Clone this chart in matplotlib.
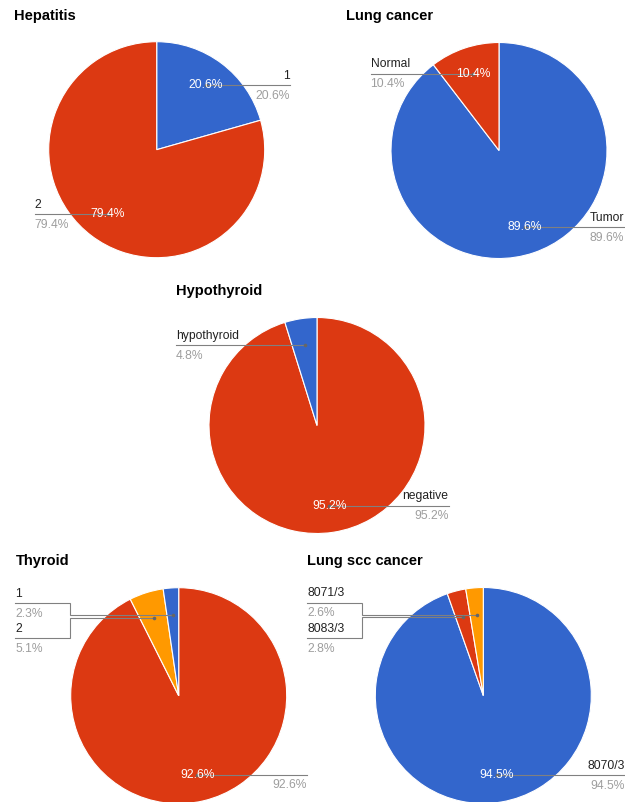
import numpy as np
import matplotlib
matplotlib.use('Agg')
import matplotlib.pyplot as plt

plt.rcParams['font.family'] = ['Liberation Sans', 'DejaVu Sans']

W, H = 625, 802

BLUE = '#3366cc'
RED = '#dc3912'
ORANGE = '#ff9900'

# data (slices listed clockwise from 12 o'clock)
hep_labels = ['1', '2']
hep_values = [20.6, 79.4]
hep_colors = [BLUE, RED]

lung_labels = ['Tumor', 'Normal']
lung_values = [89.6, 10.4]
lung_colors = [BLUE, RED]

hypo_labels = ['negative', 'hypothyroid']
hypo_values = [95.2, 4.8]
hypo_colors = [RED, BLUE]

thy_labels = ['', '2', '1']
thy_values = [92.6, 5.1, 2.3]
thy_colors = [RED, ORANGE, BLUE]

scc_labels = ['8070/3', '8083/3', '8071/3']
scc_values = [94.5, 2.8, 2.6]
scc_colors = [BLUE, RED, ORANGE]

R = 108
FS = 8.7
LINE = '#808080'

fig = plt.figure(figsize=(W / 100, H / 100), dpi=100)
ax = fig.add_axes([0, 0, 1, 1])


def draw(title, labels, values, colors, cx, cy, left, right, tx, ty):
    ax.text(tx, ty, title, fontsize=10.5, fontweight='bold', color='#000000', va='baseline')
    # y axis is inverted (pixel coords) so counterclock + -90 = clockwise from top
    ax.pie(values, colors=colors, center=(cx, cy), radius=R, startangle=-90,
           counterclock=True, frame=True,
           wedgeprops=dict(edgecolor='white', linewidth=0.8))
    vals = np.array(values, dtype=float)
    total = vals.sum()
    cum = np.cumsum(vals) - vals
    mids = np.radians(-90 + 360 * (cum + vals / 2) / total)
    axs = cx + 0.75 * R * np.cos(mids)
    ays = cy + 0.75 * R * np.sin(mids)

    for side in ('left', 'right'):
        idx = [i for i in range(len(vals)) if (axs[i] < cx) == (side == 'left')]
        idx.sort(key=lambda i: ays[i])
        ys = []
        for i in idx:
            y = ays[i]
            if ys and y < ys[-1] + 35:
                y = ys[-1] + 35
            ys.append(y)
        ys = np.array(ys)
        moved = len(idx) > 1 and np.any(np.abs(ys - ays[idx]) > 0.1)
        if moved:
            ys = ys + (ays[idx].mean() - ys.mean())
            top = cy - R + 15.5
            if ys[0] < top:
                ys = ys + (top - ys[0])
        edge = left if side == 'left' else right
        elbow = left + 55 if side == 'left' else right - 55
        ha = side
        for k, i in enumerate(idx):
            y = ys[k]
            if moved:
                ax.plot([edge, elbow, elbow, axs[i]], [y, y, ays[i], ays[i]],
                        color=LINE, lw=0.8, solid_joinstyle='miter')
            else:
                ax.plot([edge, axs[i]], [ays[i], ays[i]], color=LINE, lw=0.8)
            ax.plot(axs[i], ays[i], 'o', ms=2.6, color='#666666', mew=0)
            ax.text(edge, y - 6.5, labels[i], fontsize=FS, color='#222222',
                    ha=ha, va='baseline')
            ax.text(edge, y + 13.5, '%.1f%%' % vals[i], fontsize=FS,
                    color='#9e9e9e', ha=ha, va='baseline')
            # slice text only where it fits
            if vals[i] >= 8:
                ax.text(axs[i], ays[i], '%.1f%%' % vals[i], fontsize=FS, color='white',
                        ha='center', va='center')


draw('Hepatitis', hep_labels, hep_values, hep_colors, 156.7, 149.7, 34.5, 289.5, 14, 20)
draw('Lung cancer', lung_labels, lung_values, lung_colors, 499, 150.5, 370.5, 624, 346.5, 20)
draw('Hypothyroid', hypo_labels, hypo_values, hypo_colors, 317, 425.5, 176, 448.5, 176, 295)
draw('Thyroid', thy_labels, thy_values, thy_colors, 178.7, 695.7, 15, 307, 16, 565)
draw('Lung scc cancer', scc_labels, scc_values, scc_colors, 483.3, 695.5, 307, 625, 307, 565)

ax.set_xlim(0, W)
ax.set_ylim(H, 0)
ax.set_aspect('equal')
ax.axis('off')

fig.savefig('out.png', dpi=100)
